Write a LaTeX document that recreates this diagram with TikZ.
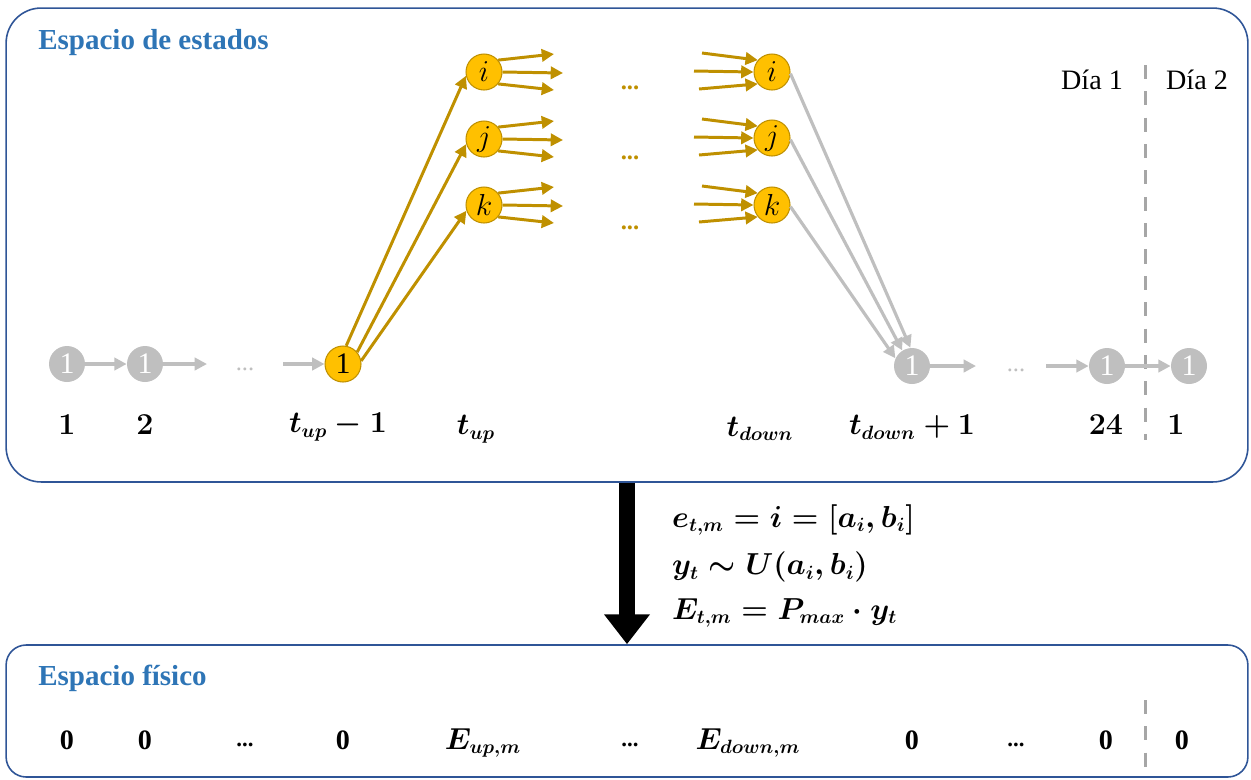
\documentclass[tikz,border=0pt]{standalone}
\usepackage{fontspec}
\setmainfont{Liberation Serif}
\usepackage{amsmath}
\usetikzlibrary{arrows.meta,calc}
\definecolor{boxblue}{RGB}{47,85,151}
\definecolor{titleblue}{RGB}{46,117,182}
\definecolor{stategold}{RGB}{255,192,0}
\definecolor{darkgold}{RGB}{191,144,0}
\definecolor{stategray}{RGB}{191,191,191}
\definecolor{dashgray}{RGB}{166,166,166}
\tikzset{
  panel/.style={draw=boxblue, line width=0.9pt, rectangle, inner sep=0pt},
  paneltitle/.style={anchor=west, inner sep=0pt, text=titleblue, font=\fontsize{16.5}{19}\selectfont\bfseries},
  st/.style={circle, minimum size=0.72cm, inner sep=0pt, font=\fontsize{17}{17}\selectfont},
  greyst/.style={st, fill=stategray, text=white},
  goldst/.style={st, fill=stategold, draw=darkgold, line width=0.6pt},
  grayarrow/.style={draw=stategray, line width=1.8pt, -{Triangle[length=7pt,width=7pt]}},
  goldarrow/.style={draw=darkgold, line width=1.7pt, -{Triangle[length=7pt,width=7pt]}},
  steplabel/.style={font=\fontsize{16}{19}\selectfont\boldmath},
  daylabel/.style={font=\fontsize{16}{19}\selectfont},
  sep/.style={draw=dashgray, line width=1.7pt, dash pattern=on 8pt off 7pt},
  formula/.style={anchor=west, font=\fontsize{16}{19}\selectfont\boldmath},
  physval/.style={font=\fontsize{16}{19}\selectfont\bfseries},
  bigarrow/.style={draw=black, line width=9.5pt, -{Triangle[length=17pt,width=25pt]}},
}
\begin{document}
\begin{tikzpicture}[x=0.02cm,y=-0.02cm]
\useasboundingbox (0,0) rectangle (1251,779);

% panels
\node[panel, rounded corners=0.7cm, minimum width=24.84cm, minimum height=9.48cm] (top) at (627,245) {};
\node[panel, rounded corners=0.4cm, minimum width=24.84cm, minimum height=2.64cm] (bot) at (627,711) {};
\node[paneltitle] (toptitle) at (38,43) {Espacio de estados};
\node[paneltitle] (bottitle) at (38,678) {Espacio físico};

% day separator
\draw[sep] (1145,65) -- (1145,440);
\draw[sep] (1145,700) -- (1145,778);
\node[daylabel] (day1) at (1092,80) {Día 1};
\node[daylabel] (day2) at (1197,80) {Día 2};

% state chain
\node[greyst] (g1) at (67,364) {1};
\node[greyst] (g2) at (145,364) {1};
\node[text=stategray, font=\fontsize{14}{14}\selectfont] (d1) at (245,369) {...};
\node[goldst] (y1) at (343,364) {1};
\node[greyst] (g3) at (912,366) {1};
\node[text=stategray, font=\fontsize{14}{14}\selectfont] (d2) at (1016,370) {...};
\node[greyst] (g4) at (1107,366) {1};
\node[greyst] (g5) at (1189,366) {1};

\coordinate (a1) at (207,364);
\coordinate (a2) at (283,364);
\coordinate (a3) at (976,366);
\coordinate (a4) at (1046,366);
\draw[grayarrow] (g1) -- (g2);
\draw[grayarrow] (g2) -- (a1);
\draw[grayarrow] (a2) -- (y1);
\draw[grayarrow] (g3) -- (a3);
\draw[grayarrow] (a4) -- (g4);
\draw[grayarrow] (g4) -- (g5);

% discrete levels
\node[goldst] (li) at (484,72) {$i$};
\node[goldst] (lj) at (484,139) {$j$};
\node[goldst] (lk) at (484,205) {$k$};
\node[goldst] (ri) at (772,72) {$i$};
\node[goldst] (rj) at (772,138) {$j$};
\node[goldst] (rk) at (772,205) {$k$};

\draw[goldarrow] (y1.80) -- (li.192);
\draw[goldarrow] (y1.40) -- (lj.196);
\draw[goldarrow] (y1.10) -- (lk.198);

\foreach \n in {li,lj,lk}{
  \coordinate (\n-o1) at ($(\n)+(70,-18)$);
  \coordinate (\n-o2) at ($(\n)+(79,1)$);
  \coordinate (\n-o3) at ($(\n)+(70,18)$);
  \draw[goldarrow] (\n.40) -- (\n-o1);
  \draw[goldarrow] (\n.east) -- (\n-o2);
  \draw[goldarrow] (\n.-40) -- (\n-o3);
}
\foreach \n in {ri,rj,rk}{
  \coordinate (\n-i1) at ($(\n)+(-70,-19)$);
  \coordinate (\n-i2) at ($(\n)+(-78,-1)$);
  \coordinate (\n-i3) at ($(\n)+(-73,17)$);
  \draw[goldarrow] (\n-i1) -- (\n.140);
  \draw[goldarrow] (\n-i2) -- (\n.west);
  \draw[goldarrow] (\n-i3) -- (\n.220);
}
\node[text=darkgold, font=\fontsize{14}{14}\selectfont\bfseries] (gd1) at (630,88) {...};
\node[text=darkgold, font=\fontsize{14}{14}\selectfont\bfseries] (gd2) at (630,158) {...};
\node[text=darkgold, font=\fontsize{14}{14}\selectfont\bfseries] (gd3) at (630,228) {...};

\draw[grayarrow] (ri.-5) -- (g3.95);
\draw[grayarrow] (rj.-5) -- (g3.122);
\draw[grayarrow] (rk.-5) -- (g3.155);

% time labels
\node[steplabel] (t1) at (67,425) {$1$};
\node[steplabel] (t2) at (145,425) {$2$};
\node[steplabel] (t3) at (338,427) {$t_{up}-1$};
\node[steplabel] (t4) at (476,429) {$t_{up}$};
\node[steplabel] (t5) at (760,429) {$t_{down}$};
\node[steplabel] (t6) at (912,427) {$t_{down}+1$};
\node[steplabel] (t7) at (1106,425) {$24$};
\node[steplabel] (t8) at (1176,425) {$1$};

% mapping between spaces
\draw[bigarrow] (top.south) -- (bot.north);
\node[formula] (f1) at (666,520) {$e_{t,m}=i=[a_i,b_i]$};
\node[formula] (f2) at (666,567) {$y_t\sim U(a_i,b_i)$};
\node[formula] (f3) at (666,613) {$E_{t,m}=P_{max}\cdot y_t$};

% physical values
\node[physval] (p1) at (67,740) {0};
\node[physval] (p2) at (145,740) {0};
\node[physval, font=\fontsize{13}{15}\selectfont\bfseries] (p3) at (245,745) {...};
\node[physval] (p4) at (343,740) {0};
\node[steplabel] (p5) at (483,743) {$E_{up,m}$};
\node[physval, font=\fontsize{13}{15}\selectfont\bfseries] (p6) at (630,745) {...};
\node[steplabel] (p7) at (748,743) {$E_{down,m}$};
\node[physval] (p8) at (912,740) {0};
\node[physval, font=\fontsize{13}{15}\selectfont\bfseries] (p9) at (1016,745) {...};
\node[physval] (p10) at (1106,740) {0};
\node[physval] (p11) at (1182,740) {0};
\end{tikzpicture}
\end{document}
